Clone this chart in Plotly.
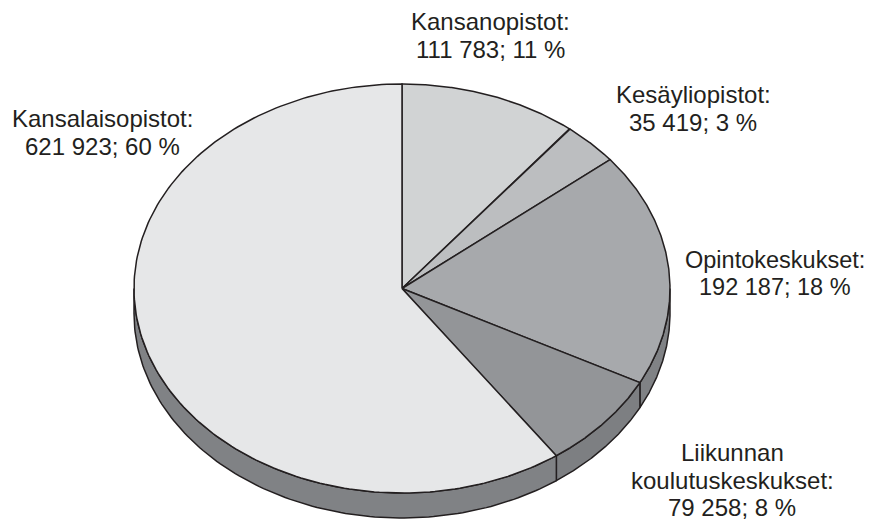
import numpy as np
import plotly.graph_objects as go

# ---- data ----
categories = ["Kansanopistot", "Kesäyliopistot", "Opintokeskukset",
              "Liikunnan koulutuskeskukset", "Kansalaisopistot"]
values = [111783, 35419, 192187, 79258, 621923]
label_lines = [["Kansanopistot:"], ["Kesäyliopistot:"], ["Opintokeskukset:"],
               ["Liikunnan", "koulutuskeskukset:"], ["Kansalaisopistot:"]]

# ---- styling / layout ----
top_colors = ["#d1d3d4", "#bcbec0", "#a7a9ac", "#939598", "#e6e7e8"]
side_colors = ["#9d9fa2", "#8a8c8e", "#808285", "#7d7f82", "#808285"]
edge = "#231f20"
W, H = 874, 520
OFF = 8  # page body margin
cx, cy, rx, ry, depth = 402, 288.5, 268, 204.5, 25
# label anchor: centre x, first baseline y
label_pos = [(490, 30), (693, 103), (775, 268), (732, 461), (102, 127)]
label_size = [24, 24, 23.5, 24, 24]
line_gap = 27.5

total = sum(values)
fr = np.array(values) / total
bounds = np.concatenate([[0], np.cumsum(fr)]) * 2 * np.pi


def pt(t, dy=0.0):
    return cx + rx * np.sin(t), cy - ry * np.cos(t) + dy


fig = go.Figure()

# sides (visible front half: pi/2 .. 3pi/2)
for i in range(len(values)):
    a, b = max(bounds[i], np.pi / 2), min(bounds[i + 1], 3 * np.pi / 2)
    if b <= a:
        continue
    t = np.linspace(a, b, 120)
    x1, y1 = pt(t)
    x2, y2 = pt(t[::-1], depth)
    xs = np.concatenate([x1, x2, x1[:1]])
    ys = np.concatenate([y1, y2, y1[:1]])
    fig.add_trace(go.Scatter(x=xs, y=ys, mode="lines", fill="toself",
                             fillcolor=side_colors[i],
                             line=dict(color=edge, width=1.5),
                             hoverinfo="skip", showlegend=False))

# top faces
for i in range(len(values)):
    t = np.linspace(bounds[i], bounds[i + 1], 200)
    x, y = pt(t)
    xs = np.concatenate([[cx], x, [cx]])
    ys = np.concatenate([[cy], y, [cy]])
    fig.add_trace(go.Scatter(x=xs, y=ys, mode="lines", fill="toself",
                             fillcolor=top_colors[i],
                             line=dict(color=edge, width=1.5),
                             hoverinfo="skip", showlegend=False,
                             name=categories[i]))

# labels
annotations = []
for i, v in enumerate(values):
    pct = round(v / total * 100)
    lines = label_lines[i] + [f"{v:,}".replace(",", " ") + f"; {pct} %"]
    lx, by = label_pos[i]
    for k, txt in enumerate(lines):
        annotations.append(dict(x=lx, y=by + k * line_gap - 8.5, xref="x", yref="y",
                                text=txt, showarrow=False, xanchor="center",
                                yanchor="middle", borderpad=0,
                                font=dict(family="Liberation Sans, Arial",
                                          size=label_size[i], color=edge)))

fig.update_layout(
    width=W - OFF, height=H - OFF, margin=dict(l=0, r=0, t=0, b=0),
    paper_bgcolor="white", plot_bgcolor="white",
    xaxis=dict(range=[OFF, W], visible=False, fixedrange=True),
    yaxis=dict(range=[H, OFF], visible=False, fixedrange=True),
    annotations=annotations, showlegend=False,
)
fig.write_html("out.html", config={"displayModeBar": False})
